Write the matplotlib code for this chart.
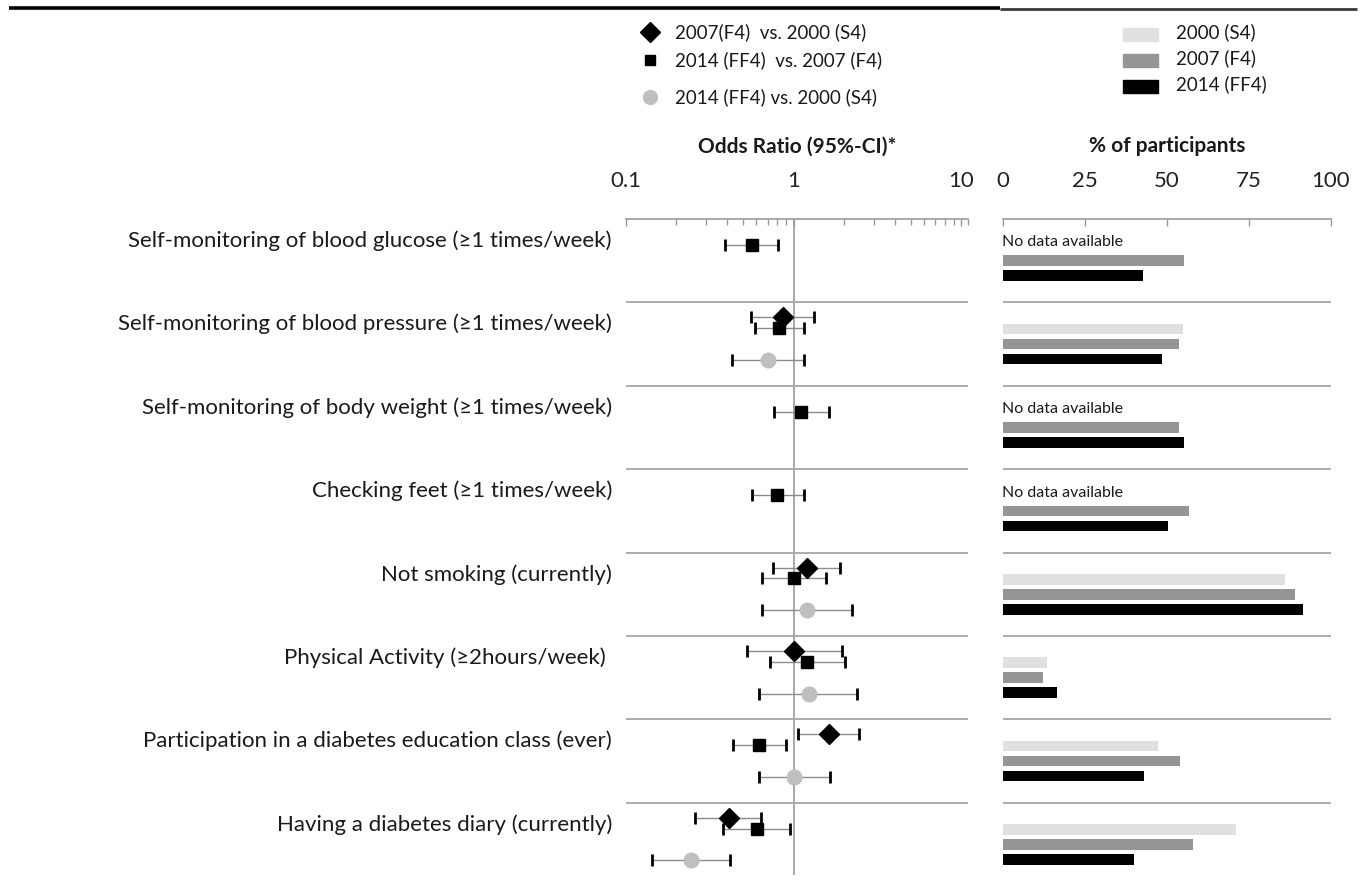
import matplotlib
matplotlib.use("Agg")
import matplotlib.pyplot as plt
import matplotlib.transforms as mtransforms
from matplotlib.ticker import FixedLocator, NullFormatter
import numpy as np

plt.rcParams['font.family'] = ['Lato', 'DejaVu Sans']

W, H = 1364, 882

outcomes = ['Self-monitoring of blood glucose (\u22651 times/week)',
            'Self-monitoring of blood pressure (\u22651 times/week)',
            'Self-monitoring of body weight (\u22651 times/week)',
            'Checking feet (\u22651 times/week)',
            'Not smoking (currently)',
            'Physical Activity (\u22652hours/week) ',
            'Participation in a diabetes education class (ever)',
            'Having a diabetes diary (currently)']

# odds ratios with 95% CI (None = no estimate)
or_07_00 = [None, 0.86, None, None, 1.20, 1.01, 1.62, 0.41]
lo_07_00 = [None, 0.56, None, None, 0.75, 0.53, 1.07, 0.26]
hi_07_00 = [None, 1.32, None, None, 1.90, 1.94, 2.44, 0.64]

or_14_07 = [0.565, 0.82, 1.11, 0.80, 1.00, 1.21, 0.62, 0.605]
lo_14_07 = [0.39, 0.59, 0.77, 0.565, 0.65, 0.72, 0.435, 0.38]
hi_14_07 = [0.81, 1.15, 1.62, 1.16, 1.57, 2.04, 0.90, 0.955]

or_14_00 = [None, 0.70, None, None, 1.20, 1.23, 1.01, 0.245]
lo_14_00 = [None, 0.43, None, None, 0.65, 0.62, 0.62, 0.143]
hi_14_00 = [None, 1.15, None, None, 2.23, 2.39, 1.65, 0.42]

# % of participants per survey
pct_2000 = [None, 55.0, None, None, 86.0, 13.2, 47.3, 71.0]
pct_2007 = [55.2, 53.7, 53.8, 56.7, 89.2, 12.2, 54.0, 58.0]
pct_2014 = [42.6, 48.6, 55.3, 50.2, 91.4, 16.5, 43.1, 40.0]

c_light = '#e0e0e0'
c_mid = '#959595'
c_circle = '#bfbfbf'
c_line = '#a6a6a6'

fig = plt.figure(figsize=(W / 100, H / 100), dpi=100)

row_h = 83.4
ax_top, ax_bot = 219, 875
n_rows = (ax_bot - ax_top) / row_h


def fig_rect(x0, x1):
    return [x0 / W, 1 - ax_bot / H, (x1 - x0) / W, (ax_bot - ax_top) / H]


# ---- forest plot ----
ax = fig.add_axes(fig_rect(625.7, 968.3))
ax.set_xscale('log')
ax.set_xlim(0.1, 11)
ax.set_ylim(n_rows, 0)
for s in ['bottom', 'left', 'right']:
    ax.spines[s].set_visible(False)
ax.spines['top'].set_color('#999999')
ax.spines['top'].set_linewidth(1.2)
ax.xaxis.set_ticks_position('top')
ax.xaxis.set_major_locator(FixedLocator([0.1, 1, 10]))
ax.set_xticklabels(['0.1', '1', '10'])
minors = [m * d for d in (0.1, 1) for m in range(2, 10)] + [11]
ax.xaxis.set_minor_locator(FixedLocator(minors))
ax.xaxis.set_minor_formatter(NullFormatter())
ax.tick_params(axis='x', which='both', direction='in', color='#999999', pad=20,
               labelsize=16, labelcolor='#222222')
ax.tick_params(axis='x', which='major', length=5, width=1)
ax.tick_params(axis='x', which='minor', length=4, width=1)
ax.set_yticks([])
ax.axvline(1, color='#999999', lw=1.2, zorder=1)
for i in range(1, 8):
    ax.axhline(i, color=c_line, lw=1.3, zorder=1)

trans = mtransforms.blended_transform_factory(ax.transAxes, ax.transData)
for i, lab in enumerate(outcomes):
    ax.text(-0.04, i + 0.26, lab, transform=trans, ha='right', va='center',
            fontsize=16, color='#1a1a1a', clip_on=False)

series = [(or_07_00, lo_07_00, hi_07_00, 0.18, 'D', 'black', 10.5),
          (or_14_07, lo_14_07, hi_14_07, 0.31, 's', 'black', 9),
          (or_14_00, lo_14_00, hi_14_00, 0.69, 'o', c_circle, 10.5)]
for est, lo, hi, off, mk, col, ms in series:
    for i in range(len(est)):
        if est[i] is None:
            continue
        y = i + off
        ax.hlines(y, lo[i], hi[i], color='#8c8c8c', lw=1, zorder=2)
        ax.plot([lo[i], hi[i]], [y, y], ls='none', marker='|', color='black',
                ms=9, mew=2, zorder=3)
        ax.plot(est[i], y, marker=mk, color=col, ms=ms, ls='none', zorder=4)

ax.set_title('Odds Ratio (95%-CI)*', fontsize=15, fontweight='bold', pad=48,
             color='#1a1a1a')

# ---- bar panel ----
bx = fig.add_axes(fig_rect(1003.3, 1330.7))
bx.set_xlim(0, 100)
bx.set_ylim(n_rows, 0)
for s in ['bottom', 'left', 'right']:
    bx.spines[s].set_visible(False)
bx.spines['top'].set_color('#999999')
bx.spines['top'].set_linewidth(1.2)
bx.xaxis.set_ticks_position('top')
bx.set_xticks([0, 25, 50, 75, 100])
bx.tick_params(axis='x', direction='in', color='#999999', length=5, width=1,
               pad=20, labelsize=16, labelcolor='#222222')
bx.set_yticks([])
for i in range(1, 8):
    bx.axhline(i, color=c_line, lw=1.3, zorder=1)

bar_h = 0.125
for vals, off, col in [(pct_2000, 0.32, c_light), (pct_2007, 0.50, c_mid),
                       (pct_2014, 0.68, 'black')]:
    for i, v in enumerate(vals):
        if v is None:
            bx.text(-0.5, i + off - 0.04, 'No data available', ha='left',
                    va='center', fontsize=11.5, color='#1a1a1a')
            continue
        bx.barh(i + off, v, height=bar_h, color=col, zorder=2)

bx.set_title('% of participants', fontsize=15, fontweight='bold', pad=48,
             color='#1a1a1a')

# ---- legends and top rule ----
ov = fig.add_axes([0, 0, 1, 1], zorder=-1)
ov.set_xlim(0, W)
ov.set_ylim(H, 0)
ov.axis('off')
ov.plot([9, 1000], [8, 8], color='black', lw=2.6, solid_capstyle='butt')
ov.plot([1000, 1357], [8.5, 8.5], color='#3a3a3a', lw=2, solid_capstyle='butt')

leg_left = [('D', 'black', 10, 32, '2007(F4)  vs. 2000 (S4)'),
            ('s', 'black', 7, 60, '2014 (FF4)  vs. 2007 (F4)'),
            ('o', c_circle, 10, 97, '2014 (FF4) vs. 2000 (S4)')]
for mk, col, ms, y, txt in leg_left:
    ov.plot(650, y, marker=mk, color=col, ms=ms, ls='none')
    ov.text(675, y, txt, ha='left', va='center', fontsize=13.5, color='#1a1a1a')

leg_right = [(c_light, 34, 32, '2000 (S4)'), (c_mid, 60, 58, '2007 (F4)'),
             ('black', 86, 84, '2014 (FF4)')]
for col, yb, yt, txt in leg_right:
    ov.add_patch(plt.Rectangle((1123, yb - 6.5), 35, 13, color=col))
    ov.text(1176, yt, txt, ha='left', va='center', fontsize=13.5, color='#1a1a1a')

fig.savefig('out.png', dpi=100)
